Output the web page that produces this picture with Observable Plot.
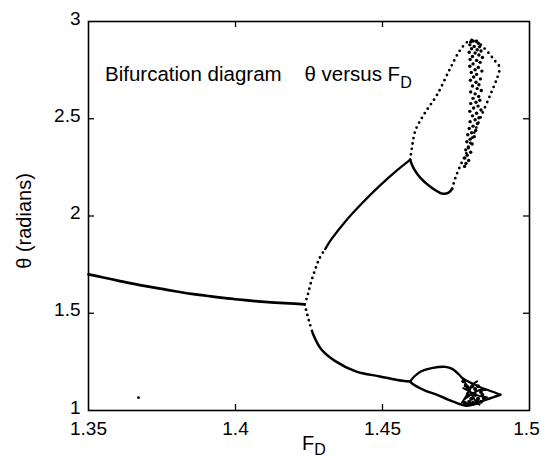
<!DOCTYPE html>
<html><head><meta charset="utf-8">
<script src="https://cdn.jsdelivr.net/npm/d3@7"></script>
<script src="https://cdn.jsdelivr.net/npm/@observablehq/plot@0.6"></script>
<style>body{margin:0;background:#fff;} svg{display:block}</style>
</head><body><div id="chart"></div>
<script>
// ---- tick labels ----
const xTicks = [1.35, 1.4, 1.45, 1.5];
const yTicks = [1, 1.5, 2, 2.5, 3];

// ---- data [F_D, theta] ----
const period1 = [[1.35,1.70],[1.355,1.684],[1.36,1.668],[1.365,1.652],[1.37,1.638],[1.375,1.625],[1.38,1.612],[1.385,1.600],[1.39,1.590],[1.395,1.580],[1.40,1.572],[1.405,1.565],[1.41,1.558],[1.415,1.553],[1.42,1.549],[1.4235,1.546]];
const p2UpperDots = [[1.4235,1.546],[1.4245,1.59],[1.4255,1.65],[1.427,1.72],[1.4285,1.78],[1.4305,1.83]];
const p2UpperLine = [[1.4305,1.83],[1.4327,1.882],[1.4373,1.971],[1.4432,2.068],[1.4491,2.156],[1.455,2.236],[1.4594,2.289]];
const p2LowerDots = [[1.4235,1.546],[1.4243,1.50],[1.4252,1.45],[1.4262,1.40]];
const p2LowerLine = [[1.4262,1.40],[1.4291,1.316],[1.4338,1.255],[1.4409,1.2015],[1.4491,1.175],[1.455,1.157],[1.4594,1.149]];
const upLoopLeft = [[1.4594,2.289],[1.4601,2.36],[1.4612,2.44],[1.4641,2.522],[1.4686,2.624],[1.4731,2.761],[1.4765,2.855],[1.4794,2.90],[1.4815,2.905],[1.4838,2.875],[1.4860,2.84],[1.4884,2.795],[1.4901,2.765]];
const upLoopLow = [[1.4594,2.289],[1.4606,2.245],[1.4629,2.196],[1.4663,2.15],[1.4703,2.115],[1.4725,2.12],[1.4737,2.14]];
const upLoopRight = [[1.4737,2.14],[1.4748,2.196],[1.4768,2.27],[1.4788,2.333],[1.4810,2.42],[1.4833,2.504],[1.4867,2.624],[1.4890,2.709],[1.4901,2.765]];
const upperChaos = [[1.4800,2.895],[1.4808,2.900],[1.4818,2.898],[1.4826,2.888],[1.4797,2.880],[1.4812,2.872],[1.4830,2.870],[1.4803,2.860],[1.4822,2.855],[1.4835,2.848],[1.4795,2.842],[1.4815,2.838],[1.4828,2.828],[1.4806,2.820],[1.4840,2.815],[1.4798,2.805],[1.4820,2.800],
[1.4832,2.790],[1.4808,2.782],[1.4797,2.770],[1.4826,2.764],[1.4815,2.752],[1.4838,2.745],[1.4802,2.738],[1.4820,2.728],[1.4810,2.715],[1.4833,2.705],[1.4799,2.698],[1.4818,2.688],[1.4828,2.675],[1.4806,2.668],[1.4822,2.655],[1.4836,2.645],[1.4800,2.638],[1.4815,2.628],[1.4827,2.615],[1.4808,2.605],
[1.4831,2.595],[1.4818,2.585],[1.4800,2.578],[1.4825,2.565],[1.4810,2.555],[1.4835,2.545],[1.4797,2.538],[1.4820,2.528],[1.4806,2.515],[1.4828,2.505],[1.4815,2.495],[1.4798,2.485],[1.4823,2.475],[1.4808,2.462],[1.4795,2.450],[1.4817,2.440],[1.4803,2.428],[1.4790,2.418],[1.4812,2.408],
[1.4798,2.395],[1.4787,2.382],[1.4805,2.370],[1.4792,2.355],[1.4783,2.340],[1.4800,2.328],[1.4788,2.312],[1.4780,2.298],[1.4793,2.285],[1.4784,2.270],[1.4779,2.255]];
const lowLoopUpper = [[1.4594,1.149],[1.4608,1.175],[1.4632,1.2015],[1.4667,1.2175],[1.4714,1.2245],[1.4737,1.214],[1.4761,1.184],[1.4772,1.166],[1.4790,1.150],[1.4815,1.132],[1.4843,1.113],[1.4878,1.095],[1.4901,1.081]];
const lowLoopLower = [[1.4594,1.149],[1.4608,1.131],[1.4643,1.104],[1.4690,1.078],[1.4725,1.055],[1.4761,1.034],[1.4784,1.025],[1.4810,1.030],[1.4843,1.051],[1.4878,1.069],[1.4901,1.081]];
const strandA = [[1.4772,1.166],[1.4782,1.140],[1.4795,1.105],[1.4808,1.070],[1.4820,1.040],[1.4830,1.030]];
const strandB = [[1.4770,1.040],[1.4785,1.075],[1.4798,1.110],[1.4812,1.140],[1.4822,1.150]];
const strandC = [[1.4775,1.115],[1.4800,1.095],[1.4828,1.075],[1.4855,1.068]];
const strandD = [[1.4780,1.060],[1.4805,1.085],[1.4830,1.105],[1.4850,1.105]];
const lowerChaos = [[1.4775,1.150],[1.4783,1.128],[1.4790,1.120],[1.4805,1.125],[1.4815,1.110],[1.4825,1.125],[1.4835,1.095],[1.4790,1.085],[1.4802,1.060],[1.4815,1.080],[1.4825,1.060],[1.4840,1.080],[1.4795,1.045],[1.4808,1.040],[1.4822,1.050],[1.4835,1.045],[1.4780,1.040],[1.4788,1.032],[1.4800,1.035],[1.4845,1.062]];
const strays = [[1.367,1.066]];

const W = 541, H = 460, mL = 88, mR = 12, mT = 21, mB = 50;
const plotW = W - mL - mR, plotH = H - mT - mB;
const pts = a => a.map(([F, theta]) => ({F, theta}));
const solid = (a, w = 2) => Plot.line(pts(a), {x: "F", y: "theta", curve: "catmull-rom", stroke: "#000", strokeWidth: w});
const dotted = a => Plot.line(pts(a), {x: "F", y: "theta", curve: "catmull-rom", stroke: "#000", strokeWidth: 2.8, strokeDasharray: "0,5.5", strokeLinecap: "round"});
const inner = xTicks.slice(1, -1), innerY = yTicks.slice(1, -1);

const chart = Plot.plot({
  width: W, height: H, marginLeft: mL, marginRight: mR, marginTop: mT, marginBottom: mB,
  style: {fontFamily: "'Liberation Sans', Arial, Helvetica, sans-serif", fontSize: "19px", color: "#000", background: "#fff"},
  x: {domain: [1.35, 1.5]},
  y: {domain: [1, 3]},
  marks: [
    Plot.axisX(xTicks, {tickSize: 0, tickPadding: 11, tickFormat: d => String(d), label: null, fontSize: 19}),
    Plot.axisY(yTicks, {tickSize: 0, tickPadding: 8, dy: -3, tickFormat: d => String(d), label: null, fontSize: 19}),
    Plot.tickX(inner, {x: d => d, insetTop: plotH - 6, stroke: "#000", strokeWidth: 1.3}),
    Plot.tickX(inner, {x: d => d, insetBottom: plotH - 6, stroke: "#000", strokeWidth: 1.3}),
    Plot.tickY(innerY, {y: d => d, insetRight: plotW - 6, stroke: "#000", strokeWidth: 1.3}),
    Plot.tickY(innerY, {y: d => d, insetLeft: plotW - 6, stroke: "#000", strokeWidth: 1.3}),
    Plot.frame({stroke: "#000", strokeWidth: 1.6}),
    solid(period1, 2.7),
    dotted(p2UpperDots), solid(p2UpperLine, 2.3),
    dotted(p2LowerDots), solid(p2LowerLine, 2.5),
    dotted(upLoopLeft), solid(upLoopLow, 2.5), dotted(upLoopRight),
    Plot.dot(pts(upperChaos), {x: "F", y: "theta", r: 1.7, fill: "#000"}),
    solid(lowLoopUpper, 2.3), solid(lowLoopLower, 2.5),
    solid(strandA, 2), solid(strandB, 2), solid(strandC, 2), solid(strandD, 2),
    Plot.dot(pts(lowerChaos), {x: "F", y: "theta", r: 2, fill: "#000"}),
    Plot.dot(pts(strays), {x: "F", y: "theta", r: 1.4, fill: "#000"})
  ]
});
document.getElementById("chart").append(chart);

const svg = d3.select(chart);
const xs = chart.scale("x"), ys = chart.scale("y");
const font = "'Liberation Sans', Arial, Helvetica, sans-serif";
// keep the last x tick label inside the picture
svg.selectAll('g[aria-label="x-axis tick label"] text')
  .filter((d, i, n) => i === n.length - 1).attr("dx", -3);
// annotation
const ann = svg.append("text").attr("x", xs.apply(1.3558)).attr("y", ys.apply(2.69))
  .attr("text-anchor", "start").attr("font-family", font).attr("font-size", 20.5).attr("fill", "#000")
  .style("white-space", "pre");
ann.append("tspan").text("Bifurcation diagram    θ versus F");
ann.append("tspan").attr("dy", 7).attr("font-size", 16).text("D");
// x label
const xl = svg.append("text").attr("x", 302).attr("y", 450).attr("text-anchor", "start")
  .attr("font-family", font).attr("font-size", 20).attr("fill", "#000");
xl.append("tspan").text("F");
xl.append("tspan").attr("dy", 5).attr("font-size", 16).text("D");
// y label
svg.append("text").attr("transform", "translate(31,221) rotate(-90)").attr("text-anchor", "middle")
  .attr("font-family", font).attr("font-size", 20).attr("fill", "#000").text("θ (radians)");
</script>
</body></html>
